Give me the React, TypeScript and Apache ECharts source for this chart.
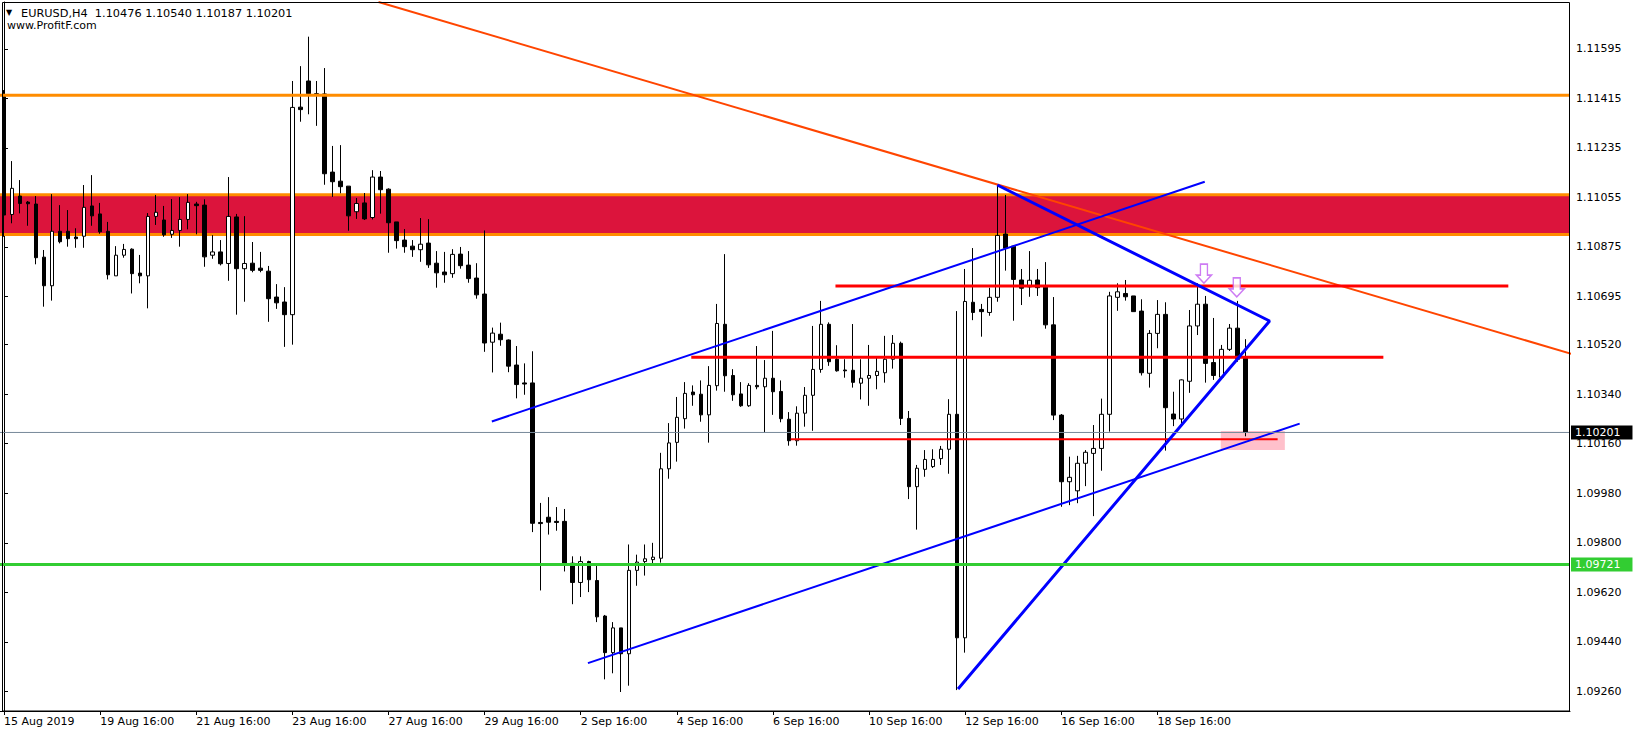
import { useEffect, useRef } from "react";
import * as echarts from "echarts";

const symbolName = "EURUSD,H4";
const siteName = "www.ProfitF.com";

const xTickLabels = [
  "15 Aug 2019", "19 Aug 16:00", "21 Aug 16:00", "23 Aug 16:00", "27 Aug 16:00",
  "29 Aug 16:00", "2 Sep 16:00", "4 Sep 16:00", "6 Sep 16:00", "10 Sep 16:00",
  "12 Sep 16:00", "16 Sep 16:00", "18 Sep 16:00",
];
const barsPerTick = 12;
const slotCount = 196;

const yTicks = [
  1.0926, 1.0944, 1.0962, 1.098, 1.0998, 1.1016, 1.1034, 1.1052, 1.10695,
  1.10875, 1.11055, 1.11235, 1.11415, 1.11595,
];
const yMin = 1.09189;
const yMax = 1.11765;

const open = [
  1.11421, 1.10993, 1.1106, 1.11038, 1.11031, 1.10838, 1.10734, 1.10932, 1.10932, 1.10911,
  1.10914, 1.11024, 1.10995, 1.10932, 1.1077, 1.10845, 1.10867, 1.1078, 1.1077, 1.10986,
  1.10973, 1.10921, 1.10935, 1.10975, 1.11031, 1.11027, 1.10845, 1.10857, 1.10815, 1.10984,
  1.10796, 1.10816, 1.10798, 1.10787, 1.10693, 1.10675, 1.10629, 1.11383, 1.11478, 1.11432,
  1.11431, 1.11147, 1.11114, 1.11096, 1.11003, 1.11035, 1.10982, 1.11129, 1.11085, 1.10966,
  1.109, 1.10878, 1.10865, 1.10889, 1.10816, 1.10784, 1.10778, 1.10849, 1.10809, 1.10762,
  1.10704, 1.10529, 1.10558, 1.10537, 1.10446, 1.10381, 1.10381, 1.09874, 1.09893, 1.09878,
  1.09878, 1.09726, 1.09656, 1.09732, 1.09663, 1.09534, 1.09401, 1.09491, 1.09397, 1.097,
  1.09732, 1.09739, 1.09744, 1.10069, 1.10165, 1.10251, 1.10348, 1.1034, 1.10265, 1.10371,
  1.10594, 1.10408, 1.10341, 1.10298, 1.10372, 1.10367, 1.10398, 1.1035, 1.10249, 1.10171,
  1.10271, 1.10336, 1.1043, 1.10594, 1.10467, 1.10428, 1.10427, 1.1038, 1.10398, 1.10408,
  1.10418, 1.10467, 1.10525, 1.10252, 1.10004, 1.10067, 1.10077, 1.10106, 1.1014, 1.10267,
  1.09455, 1.10674, 1.10648, 1.10637, 1.10692, 1.10922, 1.10878, 1.10755, 1.1073, 1.10755,
  1.10729, 1.10592, 1.10264, 1.10022, 1.09989, 1.10089, 1.10125, 1.10143, 1.10267, 1.10692,
  1.10706, 1.10697, 1.10642, 1.10416, 1.10561, 1.1063, 1.10268, 1.1025, 1.10387, 1.10588,
  1.10667, 1.10455, 1.10402, 1.10503, 1.1058, 1.10476,
];
const high = [
  1.11445, 1.11187, 1.11118, 1.11042, 1.1106, 1.10864, 1.11067, 1.11027, 1.11009, 1.10943,
  1.111, 1.11136, 1.11035, 1.10966, 1.10878, 1.10886, 1.1087, 1.10846, 1.10998, 1.11064,
  1.11024, 1.11049, 1.11056, 1.11067, 1.11039, 1.11048, 1.10918, 1.109, 1.11129, 1.10995,
  1.10987, 1.10893, 1.10857, 1.10806, 1.1074, 1.10729, 1.11478, 1.11532, 1.11639, 1.11478,
  1.11525, 1.11242, 1.11245, 1.11096, 1.11053, 1.11071, 1.11154, 1.11151, 1.11088, 1.10966,
  1.1094, 1.109, 1.1098, 1.10976, 1.1086, 1.10857, 1.10867, 1.10875, 1.1086, 1.10816,
  1.10935, 1.10582, 1.106, 1.10539, 1.10515, 1.10452, 1.10496, 1.09945, 1.09966, 1.0993,
  1.09923, 1.09751, 1.09751, 1.09735, 1.09719, 1.09538, 1.09512, 1.09491, 1.09794, 1.09757,
  1.09794, 1.098, 1.10127, 1.10235, 1.1033, 1.10384, 1.10372, 1.1039, 1.10442, 1.10668,
  1.10849, 1.10431, 1.10384, 1.1038, 1.10515, 1.10464, 1.1057, 1.1039, 1.10275, 1.10296,
  1.10366, 1.10588, 1.10679, 1.10601, 1.10518, 1.10467, 1.10595, 1.10467, 1.10519, 1.10475,
  1.10552, 1.10555, 1.10531, 1.10279, 1.10083, 1.10137, 1.1014, 1.10152, 1.10322, 1.10642,
  1.10795, 1.10871, 1.10668, 1.10727, 1.111, 1.11064, 1.10882, 1.10795, 1.1086, 1.10795,
  1.1082, 1.10693, 1.10268, 1.10113, 1.10116, 1.10137, 1.10228, 1.10324, 1.10712, 1.10743,
  1.10755, 1.10697, 1.10685, 1.10573, 1.10682, 1.10674, 1.10349, 1.10394, 1.10646, 1.10743,
  1.10697, 1.10617, 1.10519, 1.10595, 1.10679, 1.1054,
];
const low = [
  1.10912, 1.10961, 1.10997, 1.10952, 1.10812, 1.10658, 1.1068, 1.10888, 1.10876, 1.10872,
  1.10872, 1.10952, 1.10923, 1.10757, 1.1077, 1.10836, 1.10706, 1.10743, 1.10652, 1.10955,
  1.10912, 1.10908, 1.10876, 1.10939, 1.10921, 1.10803, 1.10832, 1.10808, 1.10752, 1.10629,
  1.10676, 1.10783, 1.10783, 1.10603, 1.1065, 1.10512, 1.1052, 1.1133, 1.11357, 1.11315,
  1.11101, 1.11057, 1.1107, 1.10934, 1.10977, 1.10973, 1.10975, 1.10996, 1.10854, 1.10869,
  1.10854, 1.10839, 1.10821, 1.10799, 1.10727, 1.10745, 1.10763, 1.10796, 1.10745, 1.10687,
  1.10494, 1.10419, 1.10516, 1.1042, 1.10325, 1.10338, 1.09839, 1.09627, 1.0983, 1.09844,
  1.09696, 1.09577, 1.09603, 1.09621, 1.09512, 1.09304, 1.09326, 1.09258, 1.09281, 1.09644,
  1.09681, 1.09724, 1.09728, 1.10033, 1.10095, 1.10215, 1.10298, 1.1024, 1.10164, 1.10353,
  1.10349, 1.10316, 1.10294, 1.10294, 1.10358, 1.102, 1.10265, 1.10238, 1.10153, 1.10153,
  1.10222, 1.10207, 1.10418, 1.10443, 1.10422, 1.104, 1.10364, 1.10321, 1.10298, 1.10358,
  1.10382, 1.10433, 1.10228, 1.09959, 1.09848, 1.1004, 1.10072, 1.10083, 1.10051, 1.09265,
  1.09401, 1.10609, 1.10549, 1.10625, 1.10676, 1.10789, 1.10607, 1.10664, 1.10694, 1.10697,
  1.10578, 1.10246, 1.09931, 1.09937, 1.09944, 1.10006, 1.09897, 1.10062, 1.10204, 1.10643,
  1.1068, 1.1064, 1.10408, 1.10364, 1.10507, 1.10135, 1.10224, 1.10234, 1.10345, 1.10555,
  1.10382, 1.10392, 1.10398, 1.10497, 1.10458, 1.10187,
];
const close = [
  1.10991, 1.11088, 1.11033, 1.11032, 1.10836, 1.10734, 1.10932, 1.10894, 1.10905, 1.10905,
  1.11019, 1.10988, 1.1093, 1.10774, 1.10845, 1.10866, 1.10778, 1.1077, 1.10986, 1.11001,
  1.10919, 1.10935, 1.10975, 1.11037, 1.11025, 1.10839, 1.10857, 1.10814, 1.10986, 1.10796,
  1.10815, 1.1079, 1.1079, 1.10687, 1.10672, 1.10629, 1.11382, 1.11374, 1.11432, 1.11428,
  1.11141, 1.11112, 1.11094, 1.10988, 1.11033, 1.10977, 1.11129, 1.11083, 1.10963, 1.10898,
  1.10876, 1.10865, 1.10885, 1.1081, 1.10781, 1.10774, 1.10848, 1.10807, 1.1076, 1.10701,
  1.10526, 1.10562, 1.10538, 1.10442, 1.10375, 1.10377, 1.09871, 1.0987, 1.09875, 1.09874,
  1.09724, 1.09656, 1.09732, 1.09666, 1.09531, 1.09401, 1.09491, 1.09397, 1.097, 1.0973,
  1.09742, 1.09748, 1.10069, 1.10163, 1.10256, 1.10343, 1.10338, 1.10265, 1.10372, 1.10597,
  1.10407, 1.10338, 1.10298, 1.10372, 1.10367, 1.10398, 1.10349, 1.10251, 1.10171, 1.10271,
  1.10336, 1.1043, 1.10594, 1.10458, 1.10425, 1.10425, 1.10383, 1.10398, 1.10408, 1.10423,
  1.10467, 1.10525, 1.10252, 1.10004, 1.10071, 1.10103, 1.10103, 1.1014, 1.10267, 1.09455,
  1.10677, 1.10637, 1.1064, 1.10692, 1.10917, 1.1087, 1.10757, 1.10725, 1.10754, 1.10727,
  1.10592, 1.10264, 1.10022, 1.10038, 1.10089, 1.10129, 1.10143, 1.10267, 1.10697, 1.10712,
  1.10694, 1.1064, 1.10418, 1.10561, 1.1063, 1.10291, 1.1025, 1.10392, 1.10588, 1.10667,
  1.10452, 1.10408, 1.10503, 1.1058, 1.10467, 1.10201,
];

// Horizontal levels (prices)
const orangeLevel = 1.11426;
const zoneTop = 1.11065;
const zoneBottom = 1.1092;
const greenLevel = 1.09721;
const bidLevel = 1.10201;

// Drawn objects as [bar index, price] points
const orangeTrend = [[46.75, 1.11765], [195.75, 1.10486]];
const blueUpper = [[60.9, 1.10241], [149.9, 1.11112]];
const blueLower = [[72.9, 1.09363], [161.75, 1.10233]];
const blueTriangle = [[124, 1.111], [158, 1.10606], [119.1, 1.09269]];
const redUpper = [[103.8, 1.10733], [187.8, 1.10733]];
const redMiddle = [[85.8, 1.10474], [172.2, 1.10474]];
const redLower = [[98.2, 1.10176], [159, 1.10176]];
const pinkBox = [[151.9, 1.10206], [159.9, 1.10137]];
const arrowMarks = [[149.8, 1.10778], [153.9, 1.10728]];

const FONT = "DejaVu Sans";

export default function App() {
  const ref = useRef<HTMLDivElement>(null);

  useEffect(() => {
    if (!ref.current) return;
    const chart = echarts.init(ref.current, null, { renderer: "svg" });
    const categories = Array.from({ length: slotCount }, (_, i) => String(i));
    const isTick = (i: number) => i % barsPerTick === 0 && i / barsPerTick < xTickLabels.length;
    const candles = open.map((o, i) => [o, close[i], low[i], high[i]]);
    const last = open.length - 1;
    const header = `${symbolName}  ${open[last].toFixed(5)} ${high[last].toFixed(5)} ${low[last].toFixed(5)} ${close[last].toFixed(5)}`;
    const xLeft = -0.5;
    const xRight = slotCount - 0.5;

    const seg = (data: number[][], color: string, width: number, z = 5) => ({
      type: "line",
      xAxisIndex: 1,
      yAxisIndex: 0,
      data,
      symbol: "none",
      silent: true,
      z,
      lineStyle: { color, width },
    });

    const hLine = (value: number, color: string, width: number, z = 5) =>
      seg([[xLeft, value], [xRight, value]], color, width, z);

    const priceTag = (value: number, color: string, width: number, bg: string) => ({
      ...hLine(value, color, width, 6),
      endLabel: {
        show: true,
        distance: 1,
        formatter: () => value.toFixed(5),
        backgroundColor: bg,
        color: "#ffffff",
        fontSize: 11,
        fontFamily: FONT,
        lineHeight: 13,
        padding: [1, 12, 0, 4],
      },
    });

    chart.setOption({
      animation: false,
      backgroundColor: "#ffffff",
      grid: { left: 0, right: 63, top: 2, bottom: 24, containLabel: false, outerBoundsMode: "none" },
      xAxis: [
        {
          type: "category",
          data: categories,
          boundaryGap: true,
          axisLine: { show: true, lineStyle: { color: "#000000", width: 1 } },
          axisTick: {
            show: true,
            alignWithLabel: true,
            length: 4,
            interval: (i: number) => isTick(i),
            lineStyle: { color: "#000000" },
          },
          axisLabel: {
            interval: (i: number) => isTick(i),
            formatter: (_v: string, i: number) => (isTick(i) ? xTickLabels[i / barsPerTick] : ""),
            align: "left",
            margin: 5,
            color: "#000000",
            fontSize: 11,
            fontFamily: FONT,
          },
          splitLine: { show: false },
        },
        { type: "value", min: xLeft, max: xRight, show: false },
      ],
      yAxis: {
        type: "value",
        position: "right",
        min: yMin,
        max: yMax,
        axisLine: { show: true, lineStyle: { color: "#000000" } },
        axisTick: { show: true, length: 4, customValues: yTicks, lineStyle: { color: "#000000" } },
        axisLabel: {
          customValues: yTicks,
          formatter: (v: number) => v.toFixed(5),
          margin: 6,
          color: "#000000",
          fontSize: 11,
          fontFamily: FONT,
        },
        splitLine: { show: false },
      },
      graphic: [
        {
          type: "text",
          x: 6,
          y: 12,
          silent: true,
          style: { text: "▼", fill: "#000000", fontSize: 8, fontFamily: FONT, verticalAlign: "middle" },
        },
        {
          type: "text",
          x: 21,
          y: 13,
          silent: true,
          style: { text: header, fill: "#000000", fontSize: 11.3, fontFamily: FONT, verticalAlign: "middle" },
        },
        {
          type: "text",
          x: 7,
          y: 25,
          silent: true,
          style: { text: siteName, fill: "#000000", fontSize: 11, fontFamily: FONT, verticalAlign: "middle" },
        },
        {
          type: "rect",
          silent: true,
          z: 50,
          shape: { x: 2.5, y: 2.5, width: 1567, height: 708.5 },
          style: { fill: "none", stroke: "#000000", lineWidth: 1 },
        },
      ],
      series: [
        {
          type: "line",
          xAxisIndex: 1,
          yAxisIndex: 0,
          data: [],
          z: 1,
          markArea: {
            silent: true,
            itemStyle: { color: "#DC143C", opacity: 1 },
            data: [[{ yAxis: zoneBottom }, { yAxis: zoneTop }]],
          },
        },
        {
          type: "line",
          xAxisIndex: 1,
          yAxisIndex: 0,
          data: [],
          z: 1,
          markArea: {
            silent: true,
            itemStyle: { color: "#FFC0CB", opacity: 1 },
            data: [[{ coord: pinkBox[0] }, { coord: pinkBox[1] }]],
          },
        },
        hLine(zoneTop, "#FF8C00", 3, 2),
        hLine(zoneBottom, "#FF8C00", 3, 2),
        {
          type: "candlestick",
          xAxisIndex: 0,
          yAxisIndex: 0,
          data: candles,
          barWidth: 4,
          z: 3,
          silent: true,
          itemStyle: {
            color: "#ffffff",
            color0: "#000000",
            borderColor: "#000000",
            borderColor0: "#000000",
            borderWidth: 1,
          },
        },
        hLine(orangeLevel, "#FF8C00", 3),
        priceTag(greenLevel, "#32CD32", 3, "#32CD32"),
        priceTag(bidLevel, "#778899", 1, "#000000"),
        seg(orangeTrend, "#FF4500", 2),
        seg(redUpper, "#FF0000", 3),
        seg(redMiddle, "#FF0000", 3),
        seg(redLower, "#FF0000", 2),
        seg(blueUpper, "#0000FF", 2),
        seg(blueLower, "#0000FF", 2),
        seg(blueTriangle, "#0000FF", 3),
        {
          type: "scatter",
          xAxisIndex: 1,
          yAxisIndex: 0,
          data: arrowMarks,
          silent: true,
          z: 7,
          symbol: "path://M4,0 L11,0 L11,11 L15,11 L7.5,19 L0,11 L4,11 Z",
          symbolSize: [15, 19],
          itemStyle: { color: "#ffffff", borderColor: "#C05AF0", borderWidth: 1.5 },
        },
      ],
    });

    return () => chart.dispose();
  }, []);

  return (
    <div
      ref={ref}
      style={{ position: "absolute", left: 0, top: 0, width: 1633, height: 735, background: "#ffffff" }}
    />
  );
}
